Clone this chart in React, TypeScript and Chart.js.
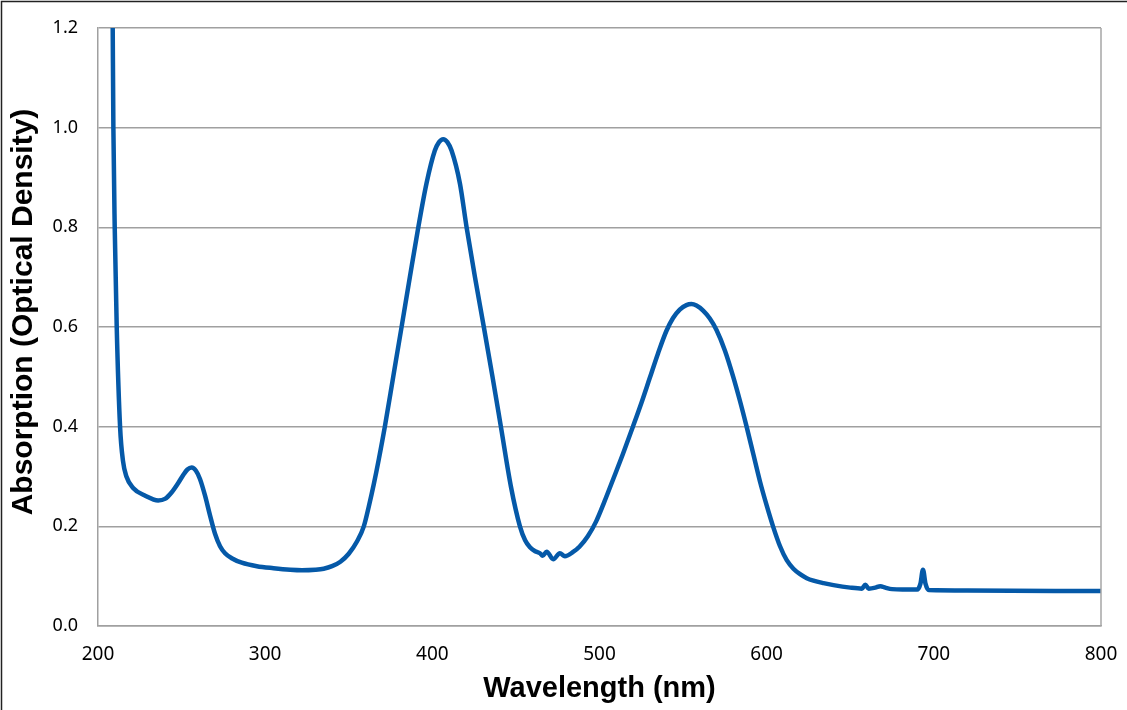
import React, { useEffect, useRef } from "react";
import { Chart, registerables } from "chart.js";

Chart.register(...registerables);

const wavelengths: number[] = [
  208.8, 209.2, 210.0, 211.2, 213.2, 215.0, 217, 221, 228, 236, 240, 244, 248, 251, 253.5, 256, 258.5, 261, 264, 267,
  270, 273, 276, 280, 286, 295, 305, 315, 322, 330, 335, 340, 345, 350, 355, 359, 362, 365, 368, 371.6, 376.6, 381.6,
  386.6, 391.6, 396.5, 401.5, 404, 406.5, 409, 411.5, 416.5, 420.5, 425.5, 430.8, 436, 441, 447, 452.4, 455.5, 458.4,
  461.5, 464.4, 466, 468.4, 472.3, 476.3, 479.3, 484, 488, 493, 498, 503, 508, 514, 520, 525, 530, 535, 540, 544, 548,
  552, 555, 558, 562, 566, 570, 575, 580, 584, 588, 592, 596, 600, 604, 608, 612, 616, 620, 624, 628, 634, 640, 650,
  657, 659, 661, 665, 668, 671, 675, 690, 692, 693.5, 695, 697, 720, 800,
];

const absorbance: number[] = [
  1.2, 1.0, 0.8, 0.6, 0.4, 0.33, 0.3, 0.277, 0.262, 0.252, 0.255, 0.268, 0.287, 0.303, 0.314, 0.318, 0.312, 0.295,
  0.262, 0.222, 0.185, 0.16, 0.146, 0.136, 0.127, 0.12, 0.116, 0.113, 0.112, 0.113, 0.115, 0.12, 0.129, 0.145, 0.17,
  0.2, 0.24, 0.285, 0.335, 0.4, 0.5, 0.6, 0.701, 0.8, 0.888, 0.954, 0.971, 0.977, 0.971, 0.954, 0.888, 0.8, 0.7, 0.6,
  0.5, 0.4, 0.28, 0.2, 0.172, 0.158, 0.15, 0.146, 0.141, 0.149, 0.134, 0.146, 0.14, 0.148, 0.159, 0.18, 0.21, 0.25,
  0.293, 0.345, 0.4, 0.447, 0.497, 0.547, 0.592, 0.618, 0.635, 0.644, 0.646, 0.643, 0.633, 0.617, 0.594, 0.553, 0.5,
  0.452, 0.4, 0.345, 0.29, 0.242, 0.198, 0.16, 0.132, 0.115, 0.104, 0.096, 0.091, 0.086, 0.082, 0.077, 0.075, 0.083,
  0.075, 0.077, 0.08, 0.077, 0.074, 0.073, 0.085, 0.113, 0.085, 0.072, 0.071, 0.07,
];

const xTicks: number[] = [200, 300, 400, 500, 600, 700, 800];
const yTicks: number[] = [0, 0.2, 0.4, 0.6, 0.8, 1.0, 1.2];

const xTitle = "Wavelength (nm)";
const yTitle = "Absorption (Optical Density)";

const framePlugin = {
  id: "framePlugin",
  beforeDraw(chart: any) {
    const { ctx, width, height } = chart;
    ctx.save();
    ctx.fillStyle = "#ffffff";
    ctx.fillRect(0, 0, width, height);
    ctx.strokeStyle = "#222222";
    ctx.lineWidth = 1.5;
    ctx.beginPath();
    ctx.moveTo(1.5, height);
    ctx.lineTo(1.5, 1.5);
    ctx.lineTo(width, 1.5);
    ctx.stroke();
    ctx.restore();
  },
  afterDatasetsDraw(chart: any) {
    const { ctx, chartArea } = chart;
    ctx.save();
    ctx.strokeStyle = "#a6a6a6";
    ctx.lineWidth = 1.5;
    ctx.beginPath();
    ctx.moveTo(chartArea.right, chartArea.top);
    ctx.lineTo(chartArea.right, chartArea.bottom);
    ctx.stroke();
    // y axis title
    ctx.fillStyle = "#000";
    ctx.font = "bold 30px 'Liberation Sans', Arial, sans-serif";
    ctx.textAlign = "center";
    ctx.textBaseline = "middle";
    ctx.translate(24, 312);
    ctx.rotate(-Math.PI / 2);
    ctx.fillText(yTitle, 0, 0);
    ctx.restore();
  },
};

export default function App() {
  const canvasRef = useRef<HTMLCanvasElement | null>(null);

  useEffect(() => {
    if (!canvasRef.current) return;
    const data = wavelengths.map((x, i) => ({ x, y: absorbance[i] }));
    const chart = new Chart(canvasRef.current, {
      type: "line",
      data: {
        datasets: [
          {
            data,
            borderColor: "#0559a8",
            borderWidth: 4.5,
            pointRadius: 0,
            fill: false,
            cubicInterpolationMode: "monotone",
            borderCapStyle: "round",
            borderJoinStyle: "round",
          },
        ],
      },
      options: {
        responsive: false,
        animation: false,
        devicePixelRatio: 1,
        layout: { padding: { left: 0, right: 26, top: 28, bottom: 0 } },
        plugins: { legend: { display: false }, tooltip: { enabled: false } },
        scales: {
          x: {
            type: "linear",
            min: 200,
            max: 800,
            afterBuildTicks: (scale: any) => {
              scale.ticks = xTicks.map((v) => ({ value: v }));
            },
            afterFit: (scale: any) => {
              scale.height = 84;
              scale.paddingLeft = 0;
              scale.paddingRight = 0;
            },
            grid: { display: false, drawTicks: false },
            border: { display: true, color: "#a0a0a0", width: 1.5 },
            ticks: {
              color: "#000",
              padding: 17,
              font: { family: "'Noto Sans', sans-serif", size: 19 },
            },
            title: {
              display: true,
              text: xTitle,
              color: "#000",
              font: { family: "'Liberation Sans', Arial, sans-serif", size: 29, weight: "bold" },
              padding: { top: 0, bottom: 4 },
            },
          },
          y: {
            min: 0,
            max: 1.2,
            afterBuildTicks: (scale: any) => {
              scale.ticks = yTicks.map((v) => ({ value: v }));
            },
            afterFit: (scale: any) => {
              scale.width = 98;
              scale.paddingTop = 0;
              scale.paddingBottom = 0;
            },
            grid: { color: "#a0a0a0", lineWidth: 1.5, drawTicks: false },
            border: { display: true, color: "#a0a0a0", width: 1.5 },
            ticks: {
              color: "#000",
              padding: 20,
              font: { family: "'Noto Sans', sans-serif", size: 18 },
              callback: (v: any) => Number(v).toFixed(1),
            },
            title: { display: false },
          },
        },
      },
      plugins: [framePlugin],
    });
    return () => chart.destroy();
  }, []);

  return (
    <div style={{ position: "absolute", left: 0, top: 0, width: 1127, height: 710, background: "#fff" }}>
      <canvas ref={canvasRef} width={1127} height={710} />
    </div>
  );
}
